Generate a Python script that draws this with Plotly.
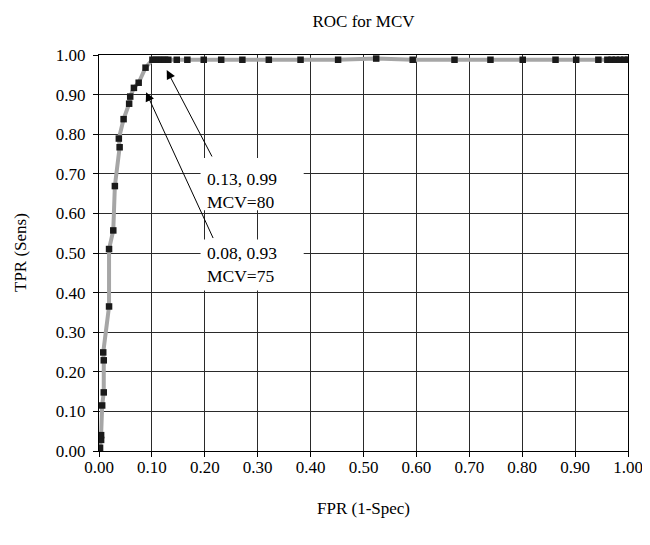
import plotly.graph_objects as go

# ROC points (FPR = 1-Spec, TPR = Sens)
fpr = [0.002, 0.004, 0.004, 0.006, 0.009, 0.009, 0.008, 0.019, 0.019, 0.027,
       0.030, 0.039, 0.0375, 0.0465, 0.057, 0.059, 0.066, 0.075, 0.088,
       0.101, 0.107, 0.113, 0.119, 0.125, 0.131, 0.147, 0.167, 0.198, 0.231,
       0.271, 0.321, 0.381, 0.452, 0.524, 0.593, 0.672, 0.740, 0.801, 0.863,
       0.902, 0.944, 0.961, 0.969, 0.977, 0.985, 0.993, 1.000]
tpr = [0.008, 0.028, 0.040, 0.115, 0.148, 0.229, 0.249, 0.365, 0.510, 0.557,
       0.669, 0.767, 0.789, 0.838, 0.877, 0.895, 0.917, 0.930, 0.968,
       0.988, 0.988, 0.988, 0.988, 0.988, 0.988, 0.988, 0.988, 0.988, 0.988,
       0.988, 0.988, 0.988, 0.988, 0.991, 0.988, 0.988, 0.988, 0.988, 0.988,
       0.988, 0.988, 0.988, 0.988, 0.988, 0.988, 0.988, 0.988]

title_text = "ROC for MCV"
x_title = "FPR (1-Spec)"
y_title = "TPR (Sens)"
callouts = [
    {"text": "0.13, 0.99<br>MCV=80", "point": (0.128, 0.962), "tail": (0.215, 0.740),
     "box": (0.192, 0.387, 0.608, 0.740), "label": (0.200, 0.658)},
    {"text": "0.08, 0.93<br>MCV=75", "point": (0.089, 0.906), "tail": (0.217, 0.534),
     "box": (0.192, 0.387, 0.405, 0.534), "label": (0.200, 0.472)},
]

FONT = "Liberation Serif, Times New Roman, serif"
L, R, T, B = 91, 30, 47, 102
PH = 545 - T - B
PW = 650 - L - R

fig = go.Figure()
fig.add_trace(go.Scatter(
    x=fpr, y=tpr, mode="lines+markers",
    line=dict(color="#a6a6a6", width=4),
    marker=dict(symbol="square", size=6.5, color="#1a1a1a"),
    showlegend=False, hoverinfo="skip"))

shapes = []
annotations = []
for c in callouts:
    x0, x1, y0, y1 = c["box"]
    shapes.append(dict(type="rect", xref="x", yref="y", x0=x0, x1=x1, y0=y0, y1=y1,
                       fillcolor="white", line=dict(width=0), layer="above"))
    annotations.append(dict(x=c["label"][0], y=c["label"][1], xref="x", yref="y",
                            text=c["text"], showarrow=False,
                            xanchor="left", yanchor="middle", align="left",
                            font=dict(family=FONT, size=17.5, color="black")))
    annotations.append(dict(x=c["point"][0], y=c["point"][1], xref="x", yref="y",
                            ax=c["tail"][0], ay=c["tail"][1], axref="x", ayref="y",
                            text="", showarrow=True, arrowhead=2, arrowsize=1.8,
                            arrowwidth=1, arrowcolor="black"))

annotations.append(dict(x=-79 / PW, y=0.5, xref="paper", yref="paper", text=y_title,
                        showarrow=False, textangle=-90, xanchor="center", yanchor="middle",
                        font=dict(family=FONT, size=17, color="black")))
annotations.append(dict(x=0.5, y=-57 / PH, xref="paper", yref="paper", text=x_title,
                        showarrow=False, xanchor="center", yanchor="middle",
                        font=dict(family=FONT, size=17, color="black")))

axis_common = dict(range=[0, 1], dtick=0.1, tick0=0, tickformat=".2f",
                   showgrid=True, gridcolor="#2a2a2a", gridwidth=1,
                   showline=True, linecolor="black", linewidth=1, mirror=True,
                   ticks="outside", ticklen=5, tickcolor="black",
                   zeroline=False, fixedrange=True,
                   tickfont=dict(family=FONT, size=17, color="black"))

fig.update_layout(
    width=650, height=545,
    margin=dict(l=L, r=R, t=T, b=B),
    paper_bgcolor="white", plot_bgcolor="white",
    title=dict(text=title_text, x=(L + PW / 2) / 650, xanchor="center",
               y=1 - 13 / 545, yanchor="middle",
               font=dict(family=FONT, size=17, color="black")),
    xaxis=dict(**axis_common, ticklabelstandoff=-4),
    yaxis=dict(**axis_common, ticklabelstandoff=4),
    shapes=shapes, annotations=annotations,
)

fig.write_html("out.html")
